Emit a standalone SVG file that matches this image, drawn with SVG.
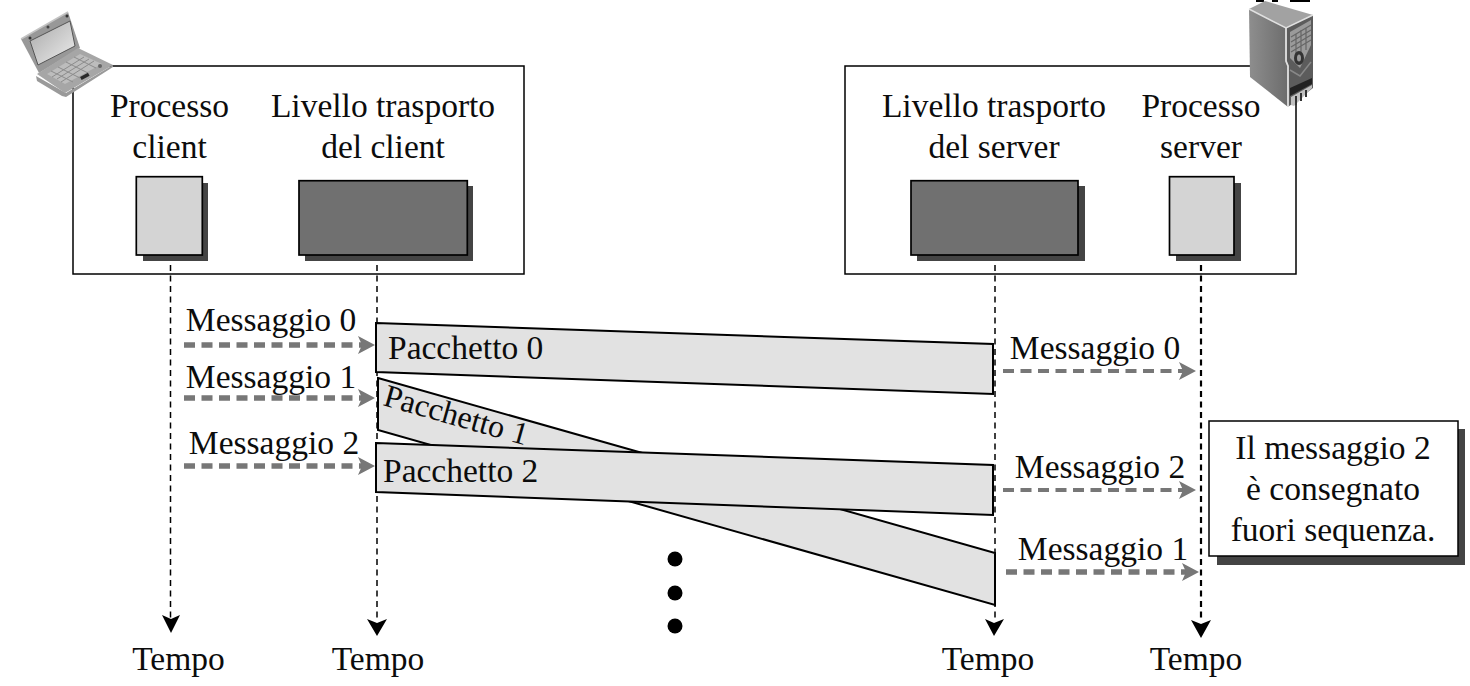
<svg xmlns="http://www.w3.org/2000/svg" width="1470" height="686" viewBox="0 0 1470 686">
<defs>
<linearGradient id="lcd" x1="0" y1="0" x2="1" y2="1"><stop offset="0" stop-color="#a8a8a8"/><stop offset="1" stop-color="#eeeeee"/></linearGradient>
<linearGradient id="side" x1="0" y1="0" x2="1" y2="0"><stop offset="0" stop-color="#8e8e8e"/><stop offset="1" stop-color="#6c6c6c"/></linearGradient>
</defs>
<style>
text{font-family:"Liberation Serif","Times New Roman",serif;font-size:33.5px;fill:#0c0c0c;text-anchor:middle}
.s{text-anchor:start}
.frame{fill:#fff;stroke:#000;stroke-width:1.5}
.light{fill:#d4d4d4;stroke:#000;stroke-width:1.7}
.dark{fill:#707070;stroke:#000;stroke-width:1.7}
.shadow{fill:#444}
.pkt{fill:#e2e2e2;stroke:#000;stroke-width:2}
.life{fill:none;stroke:#000;stroke-width:1.5;stroke-dasharray:6 4.5}
.msg{fill:none;stroke:#777;stroke-dasharray:11 6.5}
.ah{fill:#777}
.tip{fill:#000}
</style>
<rect width="1470" height="686" fill="#fff"/>
<g id="client-frame"><rect class="frame" x="73" y="66" width="451" height="208"/></g>
<g id="server-frame"><rect class="frame" x="845" y="66" width="451" height="208"/></g>
<g id="laptop">
<polygon points="21,39 68,12 80,48 39,73" fill="#989898"/>
<polyline points="21,39 68,12" fill="none" stroke="#c4c4c4" stroke-width="1.5"/>
<polygon points="30,41 70,21 75,46 38,65" fill="url(#lcd)" stroke="#555"/>
<circle cx="30" cy="38" r="1.5" fill="#333"/><circle cx="48" cy="27" r="1.5" fill="#444"/><circle cx="67" cy="16" r="1.5" fill="#333"/>
<polygon points="36,76 66,93 113,65 113,67 66,97 62,96 37,81" fill="#9a9a9a"/>
<polygon points="37,74 78,48 113,65 65,93" fill="#a6a6a6"/>
<polygon points="47,74 80,54 102,64 65,84" fill="#bdbdbd"/>
<path d="M52 77L84 57M57 79L89 59M61 82L94 61M51 71L73 82M58 67L80 78M66 62L88 73M74 57L96 68" stroke="#8c8c8c" stroke-width="1" fill="none"/>
<rect x="80" y="75" width="9" height="3.5" fill="#2a2a2a" transform="rotate(-28 84 76)"/>
<circle cx="100" cy="66" r="2" fill="#666"/>
</g>
<g id="server">
<path d="M1256 1h8M1272 1h6M1290 1h20" stroke="#000" stroke-width="2" fill="none"/>
<polygon points="1249,9 1265,1 1313,15 1286,28" fill="#a2a2a2"/>
<polygon points="1249,9 1286,28 1288,107 1250,77" fill="url(#side)"/>
<polygon points="1286,28 1313,15 1313,88 1288,107" fill="#5c5c5c"/>
<polygon points="1290,32 1311,20 1311,45 1300,68 1290,58" fill="#9a9a9a"/>
<path d="M1291 37l20-12M1291 42l20-12M1291 47l20-12M1291 52l20-12M1296 34v22M1301 30v26M1306 28v22" stroke="#666" stroke-width="1.2" fill="none"/>
<ellipse cx="1299" cy="58" rx="5" ry="7" fill="#333"/><ellipse cx="1299" cy="58" rx="2" ry="3.5" fill="#999"/>
<path d="M1290 70l10 6l11-14" stroke="#888" stroke-width="1.5" fill="none"/>
<polygon points="1290,88 1312,78 1312,84 1290,96" fill="#222"/>
<polygon points="1291,97 1312,85 1312,88 1294,106 1291,105" fill="#c0c0c0"/>
<path d="M1296 96v9M1301 93v8M1306 90v7" stroke="#333" stroke-width="2" fill="none"/>
<polyline points="1249,9 1286,28 1313,15" fill="none" stroke="#e0e0e0" stroke-width="1.5"/>
<polyline points="1286,28 1286,61 1288,66 1288,107" fill="none" stroke="#e0e0e0" stroke-width="1.8"/>
</g>
<g id="proc-client"><rect class="shadow" x="143" y="183" width="65" height="78"/><rect class="light" x="136.3" y="176.7" width="66" height="78.3"/></g>
<g id="trans-client"><rect class="shadow" x="305" y="186" width="168" height="75"/><rect class="dark" x="299" y="180.7" width="168.3" height="74.3"/></g>
<g id="trans-server"><rect class="shadow" x="917" y="186" width="168" height="75"/><rect class="dark" x="911" y="180.7" width="167" height="74.3"/></g>
<g id="proc-server"><rect class="shadow" x="1176" y="183" width="65" height="78"/><rect class="light" x="1169.5" y="176.7" width="64.5" height="78.3"/></g>
<g id="connectors">
<path class="life" d="M170.5 265V618M377 265V620M995 265V622"/>
<path class="life" style="stroke-width:2.2" d="M1201 265V622"/>
<path class="tip" d="M162 615L171 619L180 615L171 633Z"/>
<path class="tip" d="M367 619L377 623L387 619L377 636Z"/>
<path class="tip" d="M985 619L994 623L1004 619L994 636Z"/>
<path class="tip" d="M1191 620L1201 624L1211 620L1201 638Z"/>
<g id="messages">
<path class="msg" stroke-width="5.5" d="M184 345H362M184 398H362M184 466H362M1006 572H1186"/>
<path class="msg" stroke-width="4" d="M1003 371H1183M1003 490H1183"/>
<path class="ah" d="M375 345L358 336L362 345L358 354Z"/>
<path class="ah" d="M375 398L358 389L362 398L358 407Z"/>
<path class="ah" d="M375 466L358 457L362 466L358 475Z"/>
<path class="ah" d="M1196 371L1179 362L1183 371L1179 380Z"/>
<path class="ah" d="M1196 490L1179 481L1183 490L1179 499Z"/>
<path class="ah" d="M1199 572L1182 563L1186 572L1182 581Z"/>
</g>
</g>
<g id="pkt1"><polygon class="pkt" points="378,378 995,553 995,605 378,430"/><text transform="translate(382 405) rotate(15.8)" class="s" style="font-size:32px">Pacchetto 1</text></g>
<g id="pkt0"><polygon class="pkt" points="376,323 993,344 993,394 376,372"/><text class="s" x="388" y="359">Pacchetto 0</text></g>
<g id="pkt2"><polygon class="pkt" points="376,443 993,465 993,515 376,492"/><text class="s" x="383" y="482">Pacchetto 2</text></g>
<g id="dots"><circle cx="675" cy="559" r="7.5"/><circle cx="675" cy="593" r="7.5"/><circle cx="675" cy="626" r="7.5"/></g>
<g id="note"><rect class="shadow" x="1217" y="429" width="248" height="136"/><rect x="1209" y="421" width="249" height="135" fill="#fff" stroke="#000" stroke-width="1.5"/>
<text x="1333" y="459">Il messaggio 2</text><text x="1333" y="500">è consegnato</text><text x="1333" y="541">fuori sequenza.</text></g>
<g id="labels">
<text x="169.5" y="117">Processo</text><text x="169.5" y="158">client</text>
<text x="383" y="117">Livello trasporto</text><text x="383" y="158">del client</text>
<text x="994" y="117">Livello trasporto</text><text x="994" y="158">del server</text>
<text x="1201" y="117">Processo</text><text x="1201" y="158">server</text>
<text x="271" y="331">Messaggio 0</text><text x="271" y="388">Messaggio 1</text><text x="274" y="454">Messaggio 2</text>
<text x="1095" y="359">Messaggio 0</text><text x="1100" y="478">Messaggio 2</text><text x="1103" y="560">Messaggio 1</text>
<text x="178.5" y="670">Tempo</text><text x="378" y="670">Tempo</text><text x="988" y="670">Tempo</text><text x="1196" y="670">Tempo</text>
</g>
</svg>
